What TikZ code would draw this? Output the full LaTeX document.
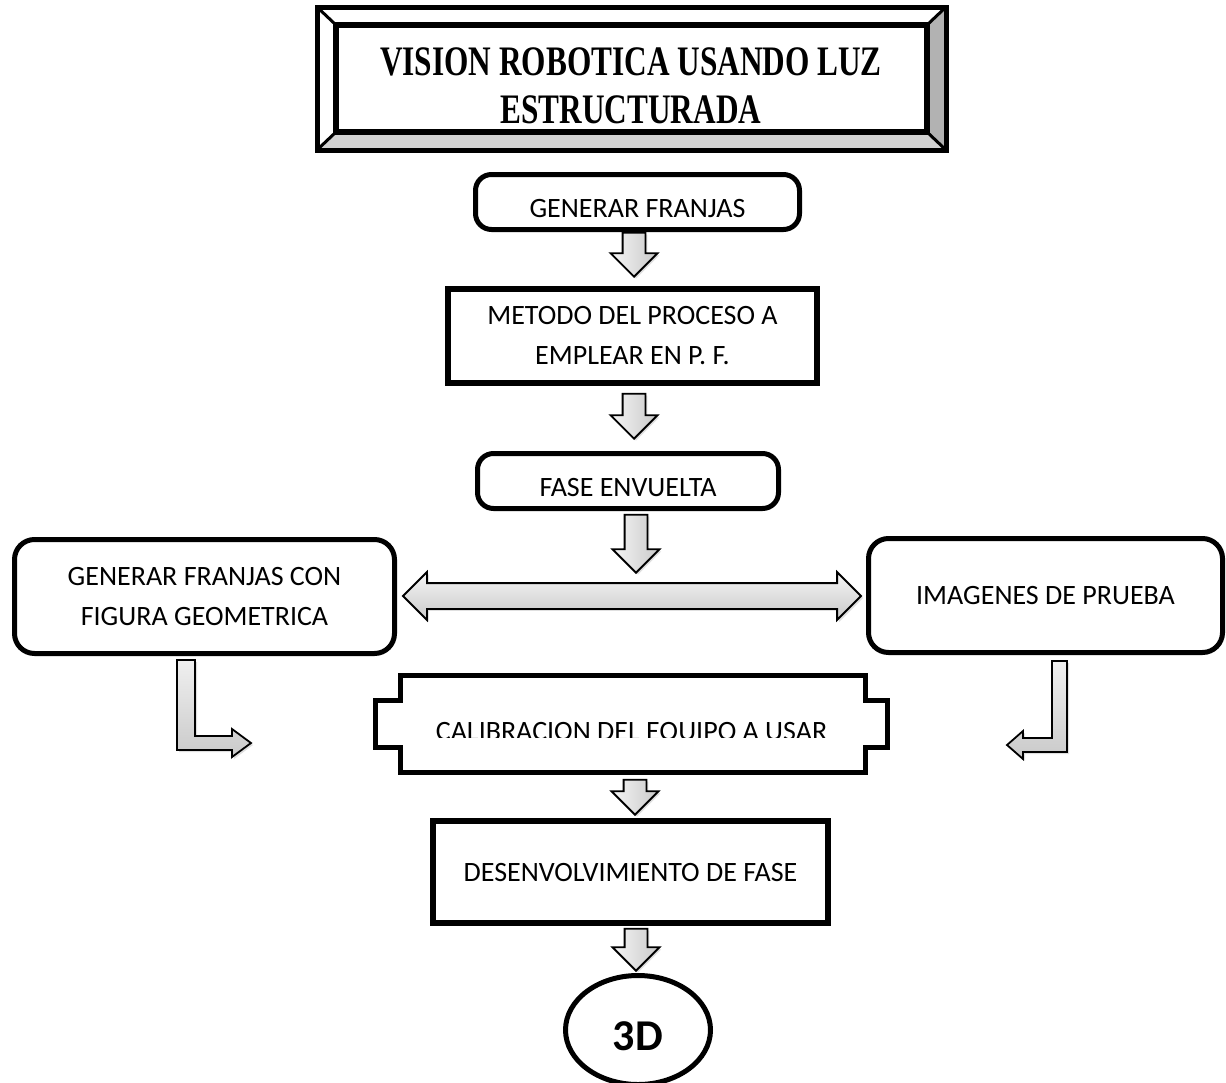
\documentclass[tikz,border=0pt]{standalone}
\usepackage{graphicx}
\usepackage{fontspec}
\usetikzlibrary{shapes.geometric,shapes.arrows,shadows}
\newfontfamily\fuentecaja{Carlito}
\newfontfamily\fuentetitulo{Liberation Serif}

\tikzset{
  caja/.style={draw, line width=6pt, inner sep=0pt, align=center, font={\fuentecaja\fontsize{28}{40}\selectfont}},
  redonda/.style={caja, line width=5pt, rounded corners=16pt},
  sombra/.style={drop shadow={shadow xshift=2pt, shadow yshift=-2pt, opacity=0.25}},
  flecha/.style={single arrow, draw, line width=1.8pt, inner xsep=0pt, inner ysep=10.5pt, minimum width=45pt, single arrow head extend=12pt, rotate=-90, anchor=tip, left color=gray!8, right color=gray!42, sombra},
  codo/.style={draw, line width=1.8pt, top color=gray!12, bottom color=gray!42, sombra}
}

\begin{document}
\begin{tikzpicture}[x=1pt,y=-1pt]
  \useasboundingbox (0,0) rectangle (1226,1082);
  % Marco biselado del titulo
  \fill[white] (317,7) -- (946,7) -- (927,25) -- (336,25) -- cycle;
  \fill[white] (317,7) -- (336,25) -- (336,132) -- (317,150) -- cycle;
  \fill[gray!60] (946,7) -- (946,150) -- (927,132) -- (927,25) -- cycle;
  \fill[gray!35] (317,150) -- (946,150) -- (927,132) -- (336,132) -- cycle;
  \draw[line width=3pt] (317,7) -- (336,25) (946,7) -- (927,25) (317,150) -- (336,132) (946,150) -- (927,132);
  \draw[line width=5pt] (317,7) rectangle (946,150);
  \draw[line width=6pt] (336,25) rectangle (927,132);
  \node[align=center, inner sep=0pt, font={\fuentetitulo\bfseries\fontsize{42}{47.5}\selectfont}] (titulo) at (631,86)
    {\scalebox{0.745}[1]{VISION ROBOTICA USANDO LUZ}\\\scalebox{0.745}[1]{ESTRUCTURADA}};

  % Cajas
  \node[redonda, minimum width=324pt, minimum height=55pt, text height=30pt, text depth=0pt] (gen) at (637.5,202) {GENERAR FRANJAS};
  \node[caja, minimum width=369pt, minimum height=94pt] (met) at (632.5,336) {METODO DEL PROCESO A\\EMPLEAR EN P. F.};
  \node[redonda, minimum width=301pt, minimum height=55pt, text height=30pt, text depth=0pt] (fase) at (628,481) {FASE ENVUELTA};
  \node[redonda, rounded corners=20pt, minimum width=380pt, minimum height=114pt] (izq) at (204.5,596.5) {GENERAR FRANJAS CON\\FIGURA GEOMETRICA};
  \node[redonda, rounded corners=20pt, minimum width=354pt, minimum height=114pt] (der) at (1045.5,595.5) {IMAGENES DE PRUEBA};
  \node[caja, minimum width=395pt, minimum height=102pt] (des) at (630.5,872) {DESENVOLVIMIENTO DE FASE};
  \node[ellipse, draw, line width=5pt, minimum width=145pt, minimum height=109pt, inner sep=0pt, text height=40pt, text depth=0pt,
    font={\fuentecaja\bfseries\fontsize{44}{50}\selectfont}] (tresd) at (638,1030) {3D};

  % Calibracion (caja con muescas)
  \node[minimum width=465pt, minimum height=97pt, inner sep=0pt] (cal) at (633,724) {};
  \draw[line width=5pt] (cal.north west) -- ++(0,25) -- ++(-25,0) -- ++(0,47) -- ++(25,0) -- (cal.south west)
    -- (cal.south east) -- ++(0,-25) -- ++(22,0) -- ++(0,-47) -- ++(-22,0) -- (cal.north east) -- cycle;
  \begin{scope}
    \clip (380,680) rectangle (880,737);
    \node[anchor=base, inner sep=0pt, font={\fuentecaja\fontsize{28}{40}\selectfont}] (caltexto) at (631.5,740) {CALIBRACION DEL EQUIPO A USAR};
  \end{scope}

  % Flechas
  \node[flecha, minimum height=44pt] (f1) at (634,278) {};
  \node[flecha, minimum height=45pt] (f2) at (634,440) {};
  \node[flecha, minimum height=58pt] (f3) at (636,574) {};
  \node[flecha, minimum height=35pt] (f4) at (635,816) {};
  \node[flecha, minimum height=42pt] (f5) at (636,972) {};
  \node[double arrow, draw, line width=1.8pt, inner xsep=0pt, inner ysep=12pt, minimum height=458pt, minimum width=46pt, double arrow head extend=11pt,
    top color=gray!8, bottom color=gray!42, sombra] (doble) at (632,596) {};
  \draw[codo] (177,660) -- (195,660) -- (195,736) -- (232,736) -- (232,729) -- (251,743) -- (232,757) -- (232,750) -- (177,750) -- cycle;
  \draw[codo] (1067,661) -- (1052,661) -- (1052,738) -- (1023,738) -- (1023,731) -- (1007,745) -- (1023,759) -- (1023,752) -- (1067,752) -- cycle;
\end{tikzpicture}
\end{document}
